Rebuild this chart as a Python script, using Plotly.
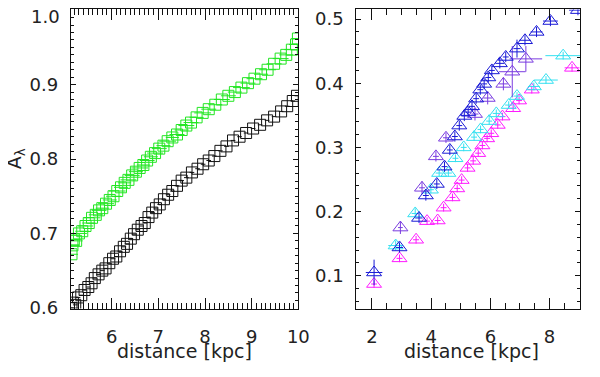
import plotly.graph_objects as go

FONT = dict(family="DejaVu Sans, sans-serif", color="#222222", size=18)

# ---- left panel: A_lambda vs distance (squares)
black_x = [5.14, 5.17, 5.22, 5.28, 5.35, 5.42, 5.50, 5.57, 5.64, 5.72, 5.80, 5.87, 5.95,
           6.03, 6.10, 6.18, 6.26, 6.33, 6.41, 6.48, 6.56, 6.64, 6.71, 6.79, 6.87, 6.95,
           7.03, 7.12, 7.21, 7.30, 7.40, 7.50, 7.60, 7.72, 7.84, 7.96, 8.08, 8.20, 8.33,
           8.46, 8.60, 8.74, 8.88, 9.03, 9.18, 9.33, 9.48, 9.63, 9.76, 9.88, 9.97]
black_y = [0.600, 0.607, 0.604, 0.614, 0.617, 0.624, 0.628, 0.633, 0.640, 0.645, 0.650, 0.653, 0.660,
           0.666, 0.669, 0.676, 0.682, 0.686, 0.693, 0.699, 0.705, 0.710, 0.714, 0.722, 0.728, 0.734,
           0.739, 0.746, 0.752, 0.757, 0.764, 0.771, 0.775, 0.782, 0.787, 0.793, 0.798, 0.804, 0.811,
           0.817, 0.825, 0.830, 0.835, 0.841, 0.846, 0.852, 0.857, 0.864, 0.871, 0.878, 0.885]

green_x = [5.14, 5.16, 5.19, 5.24, 5.30, 5.37, 5.44, 5.51, 5.58, 5.66, 5.73, 5.80, 5.88,
           5.96, 6.04, 6.12, 6.20, 6.28, 6.36, 6.44, 6.52, 6.60, 6.68, 6.76, 6.84, 6.93,
           7.02, 7.11, 7.20, 7.30, 7.40, 7.50, 7.60, 7.70, 7.82, 7.95, 8.08, 8.22, 8.36,
           8.50, 8.64, 8.78, 8.92, 9.06, 9.20, 9.34, 9.48, 9.62, 9.74, 9.86, 9.95, 9.99]
green_y = [0.672, 0.684, 0.692, 0.690, 0.700, 0.703, 0.710, 0.714, 0.721, 0.725, 0.731, 0.734, 0.740,
           0.745, 0.750, 0.757, 0.762, 0.768, 0.772, 0.778, 0.783, 0.788, 0.792, 0.798, 0.803, 0.808,
           0.814, 0.818, 0.824, 0.829, 0.833, 0.839, 0.845, 0.849, 0.856, 0.862, 0.867, 0.873, 0.880,
           0.885, 0.890, 0.896, 0.902, 0.908, 0.914, 0.920, 0.928, 0.935, 0.940, 0.947, 0.954, 0.962]
green_xerr = [0.14, 0.16, 0.15, 0.14, 0.17, 0.15, 0.16, 0.14, 0.18, 0.15, 0.16, 0.14, 0.17,
              0.15, 0.16, 0.18, 0.15, 0.14, 0.17, 0.16, 0.15, 0.18, 0.14, 0.16, 0.15, 0.17,
              0.16, 0.15, 0.18, 0.14, 0.16, 0.15, 0.17, 0.16, 0.15, 0.18, 0.16, 0.15, 0.17,
              0.16, 0.15, 0.18, 0.16, 0.17, 0.15, 0.18, 0.16, 0.17, 0.15, 0.16, 0.15, 0.14]

left_yticks = [0.6, 0.7, 0.8, 0.9, 1.0]
left_ylabels = ["0.6", "0.7", "0.8", "0.9", ""]   # "1.0" drawn just below the top edge, as in the original

# ---- right panel: triangles
blue_x = [2.07, 2.93, 3.59, 3.82, 4.19, 4.45, 4.63, 4.80, 4.95, 5.12, 5.25, 5.38, 5.52,
          5.66, 5.79, 5.93, 6.05, 6.32, 6.52, 6.90, 7.17, 7.56, 8.03, 8.96]
blue_y = [0.105, 0.144, 0.190, 0.225, 0.243, 0.270, 0.296, 0.317, 0.334, 0.349, 0.355, 0.364, 0.376,
          0.390, 0.399, 0.409, 0.420, 0.431, 0.441, 0.454, 0.467, 0.480, 0.497, 0.514]
blue_xerr = [0.28, 0.12, 0.12, 0.10, 0.10, 0.10, 0.10, 0.10, 0.10, 0.10, 0.10, 0.10, 0.10,
             0.10, 0.10, 0.10, 0.10, 0.15, 0.10, 0.12, 0.20, 0.20, 0.25, 0.30]
blue_yerr = [0.020, 0.008, 0.008, 0.008, 0.008, 0.008, 0.008, 0.008, 0.008, 0.008, 0.008, 0.008, 0.008,
             0.008, 0.008, 0.008, 0.008, 0.008, 0.008, 0.014, 0.008, 0.008, 0.008, 0.008]

purple_x = [2.96, 3.69, 4.16, 4.50, 5.48, 5.91, 6.44, 6.74, 7.20]
purple_y = [0.175, 0.237, 0.286, 0.315, 0.352, 0.377, 0.399, 0.418, 0.438]
purple_xerr = [0.08, 0.10, 0.10, 0.10, 0.12, 0.15, 0.15, 0.45, 0.55]
purple_yerr = [0.010, 0.010, 0.008, 0.008, 0.010, 0.010, 0.010, 0.040, 0.020]

cyan_x = [2.80, 3.46, 3.99, 4.27, 4.58, 4.82, 5.10, 5.45, 5.67, 5.96, 6.20, 6.62, 6.90, 7.47, 7.88, 8.46]
cyan_y = [0.147, 0.197, 0.234, 0.260, 0.260, 0.283, 0.300, 0.316, 0.328, 0.341, 0.353, 0.366,
          0.380, 0.395, 0.405, 0.443]
cyan_xerr = [0.25, 0.12, 0.10, 0.12, 0.12, 0.10, 0.10, 0.10, 0.10, 0.10, 0.12, 0.12, 0.12, 0.20, 0.40, 0.60]
cyan_yerr = [0.008, 0.008, 0.006, 0.006, 0.006, 0.006, 0.006, 0.006, 0.006, 0.006, 0.006, 0.006,
             0.006, 0.006, 0.006, 0.006]

magenta_x = [2.07, 2.93, 3.49, 3.86, 4.22, 4.42, 4.72, 4.88, 5.03, 5.23, 5.42, 5.59, 5.73, 5.89,
             6.03, 6.25, 6.41, 6.77, 6.97, 7.40, 8.76]
magenta_y = [0.087, 0.127, 0.156, 0.185, 0.186, 0.206, 0.222, 0.236, 0.249, 0.268, 0.279, 0.291,
             0.303, 0.314, 0.322, 0.335, 0.348, 0.361, 0.373, 0.390, 0.424]
magenta_xerr = [0.10, 0.10, 0.10, 0.10, 0.10, 0.10, 0.10, 0.10, 0.10, 0.10, 0.10, 0.10, 0.10, 0.10,
                0.10, 0.10, 0.10, 0.10, 0.10, 0.12, 0.25]
magenta_yerr = [0.006] * len(magenta_x)

fig = go.Figure()

def squares(x, y, xerr, color):
    return go.Scatter(
        x=x, y=y, mode="markers", xaxis="x", yaxis="y", showlegend=False, hoverinfo="skip",
        marker=dict(symbol="square-open", size=11, color=color, line=dict(width=1, color=color)),
        error_x=dict(type="data", array=xerr, thickness=1, width=0, color=color),
    )

def triangles(x, y, xerr, yerr, color):
    return go.Scatter(
        x=x, y=y, mode="markers", xaxis="x2", yaxis="y2", showlegend=False, hoverinfo="skip",
        marker=dict(symbol="triangle-up-open", size=13, color=color, line=dict(width=1, color=color)),
        error_x=dict(type="data", array=xerr, thickness=1, width=0, color=color),
        error_y=dict(type="data", array=yerr, thickness=1, width=0, color=color),
    )

fig.add_trace(squares(green_x, green_y, green_xerr, "#22e622"))
fig.add_trace(squares(black_x, black_y, [0.05] * len(black_x), "#111111"))

fig.add_trace(triangles(magenta_x, magenta_y, magenta_xerr, magenta_yerr, "#ff1aff"))
fig.add_trace(triangles(cyan_x, cyan_y, cyan_xerr, cyan_yerr, "#33e0f0"))
fig.add_trace(triangles(purple_x, purple_y, purple_xerr, purple_yerr, "#7a3ce0"))
fig.add_trace(triangles(blue_x, blue_y, blue_xerr, blue_yerr, "#1a1ad6"))

# the page body keeps its 8px margin, so the figure is 16px smaller than the window
# and every position below is window pixels minus that 8px offset
OFF = 8
W, H = 600 - 2 * OFF, 377 - 2 * OFF

def px_x(a, b):
    return [(a - OFF) / W, (b - OFF) / W]

def px_y(top, bottom):
    return [1 - (bottom - OFF) / H, 1 - (top - OFF) / H]

ax_common = dict(showline=True, linecolor="#111", linewidth=1, mirror="allticks",
                 ticks="inside", tickcolor="#111", tickwidth=1, showgrid=False,
                 zeroline=False, tickfont=FONT)

fig.update_layout(
    width=W, height=H, paper_bgcolor="white", plot_bgcolor="white",
    font=FONT, margin=dict(l=0, r=0, t=0, b=0),
    xaxis=dict(ax_common, domain=px_x(72, 304), range=[5.125, 10.001], dtick=1, ticklen=11,
               anchor="y", ticklabelstandoff=12,
               minor=dict(dtick=0.1, ticklen=6, ticks="inside", tickcolor="#111")),
    yaxis=dict(ax_common, domain=px_y(8.5, 317), range=[0.599, 1.001],
               tickvals=left_yticks, ticktext=left_ylabels, ticklen=5,
               anchor="x", ticklabelstandoff=8,
               minor=dict(dtick=0.01, ticklen=3, ticks="inside", tickcolor="#111")),
    xaxis2=dict(ax_common, domain=px_x(363, 591), range=[1.47, 9.03], dtick=2, ticklen=11,
                anchor="y2", ticklabelstandoff=12,
                minor=dict(dtick=0.5, ticklen=6, ticks="inside", tickcolor="#111")),
    yaxis2=dict(ax_common, domain=px_y(8.5, 317), range=[0.0487, 0.515], dtick=0.1, ticklen=5,
                tickformat=".1f", anchor="x2", ticklabelstandoff=8, ticklabeloverflow="allow",
                minor=dict(dtick=0.02, ticklen=3, ticks="inside", tickcolor="#111")),
)

title_font = dict(FONT, size=19)
fig.add_annotation(text="distance [kpc]", x=(188 - OFF) / W, y=0, yshift=-5, xref="paper",
                   yref="paper", xanchor="center", yanchor="bottom", showarrow=False, font=title_font)
fig.add_annotation(text="distance [kpc]", x=(480 - OFF) / W, y=0, yshift=-5, xref="paper",
                   yref="paper", xanchor="center", yanchor="bottom", showarrow=False, font=title_font)
fig.add_annotation(text="A<sub>λ</sub>", x=(15 - OFF) / W, y=1 - (162 - OFF) / H, xref="paper",
                   yref="paper", xanchor="center", yanchor="middle", showarrow=False,
                   textangle=-90, font=title_font)
fig.add_annotation(text="1.0", x=(63 - OFF) / W, y=1 - (16 - OFF) / H, xref="paper", yref="paper",
                   xanchor="right", yanchor="middle", showarrow=False, font=FONT)

fig.write_html("out.html", config={"displayModeBar": False})
